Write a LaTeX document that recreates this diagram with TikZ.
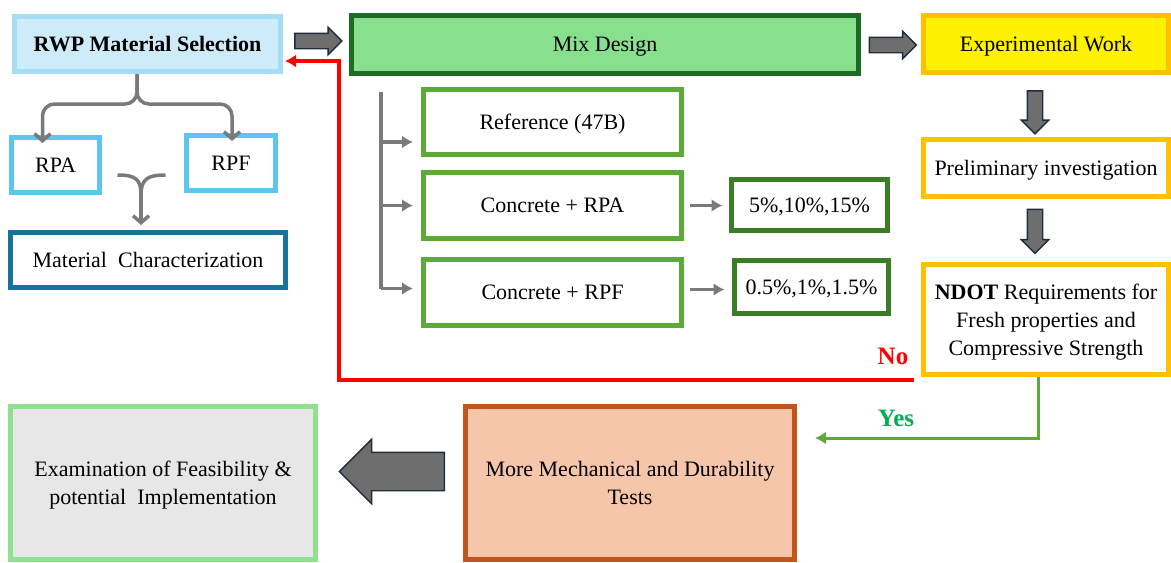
\documentclass[tikz,border=0pt]{standalone}
\usepackage{fontspec}
\setmainfont{Liberation Serif}
\usepackage{tikz}
\usetikzlibrary{calc, arrows.meta, shapes.arrows}

\definecolor{skyline}{HTML}{A6DCF4}
\definecolor{skyfill}{HTML}{CDEBF9}
\definecolor{skyedge}{HTML}{5CC6EE}
\definecolor{tealedge}{HTML}{17739B}
\definecolor{mixfill}{HTML}{88E08F}
\definecolor{mixedge}{HTML}{1E6B24}
\definecolor{leafedge}{HTML}{5CAA38}
\definecolor{darkleaf}{HTML}{3B7D26}
\definecolor{gold}{HTML}{FFC000}
\definecolor{peach}{HTML}{F5C6AA}
\definecolor{rust}{HTML}{C0561D}
\definecolor{paleedge}{HTML}{8FE08F}
\definecolor{palegray}{HTML}{E7E7E7}
\definecolor{linegray}{HTML}{7A7A7A}
\definecolor{arrowgray}{HTML}{6E6E6E}
\definecolor{navyedge}{HTML}{1F2D3D}
\definecolor{yesgreen}{HTML}{00B050}

\begin{document}
\begin{tikzpicture}[x=0.5pt, y=-0.5pt, >={Latex[length=5.5pt,width=6.5pt]},
  box/.style={draw, line width=2.5pt, align=center, inner sep=0pt, text depth=0pt, font=\fontsize{11pt}{14pt}\selectfont},
  boldtext/.style={font=\bfseries\fontsize{11pt}{14pt}\selectfont},
  bigbold/.style={font=\bfseries\fontsize{12.5pt}{14pt}\selectfont},
  gline/.style={linegray, line width=1.75pt},
  barb/.style={-{Straight Barb[length=3.5pt,width=8pt]}},
  fat/.style={single arrow, draw=navyedge, fill=arrowgray, line width=0.7pt, minimum width=13pt, minimum height=23.5pt, inner sep=3.5pt, single arrow head extend=3pt}]
\useasboundingbox (0,0) rectangle (1171,562);

\node[box, boldtext, draw=skyline, fill=skyfill, minimum width=133pt, minimum height=27.5pt] (rwp) at (147.5,44) {RWP Material Selection};
\node[box, draw=skyedge, minimum width=44pt, minimum height=27.5pt] (rpa) at (55.5,165) {RPA};
\node[box, draw=skyedge, minimum width=44.5pt, minimum height=27.5pt] (rpf) at (231,163) {RPF};
\node[box, draw=tealedge, minimum width=137.5pt, minimum height=27.5pt] (matchar) at (148,260) {Material\enspace Characterization};

\node[box, draw=mixedge, fill=mixfill, minimum width=253.5pt, minimum height=29pt] (mix) at (605,44.5) {Mix Design};
\node[box, draw=leafedge, minimum width=129pt, minimum height=32.5pt] (ref) at (552.5,122) {Reference (47B)};
\node[box, draw=leafedge, minimum width=129pt, minimum height=33pt] (cra) at (552.5,205.5) {Concrete + RPA};
\node[box, draw=leafedge, minimum width=129pt, minimum height=33pt] (crf) at (552.5,292.5) {Concrete + RPF};
\node[box, draw=darkleaf, minimum width=78pt, minimum height=25.5pt] (pa) at (809.5,205) {5\%,10\%,15\%};
\node[box, draw=darkleaf, minimum width=77pt, minimum height=26.5pt] (pf) at (811.5,287) {0.5\%,1\%,1.5\%};

\node[box, draw=gold, fill=yellow, minimum width=122.5pt, minimum height=28.5pt] (expw) at (1046,44) {Experimental Work};
\node[box, draw=gold, minimum width=122.5pt, minimum height=28.5pt] (prel) at (1046,168) {Preliminary investigation};
\node[box, draw=gold, minimum width=122.5pt, minimum height=55pt] (ndot) at (1046,319.5) {\textbf{NDOT} Requirements for\\Fresh properties and\\Compressive Strength};

\node[box, draw=rust, fill=peach, minimum width=164.5pt, minimum height=76.5pt] (more) at (630,483) {More Mechanical and Durability\\Tests};
\node[box, draw=paleedge, fill=palegray, minimum width=152.5pt, minimum height=76.5pt] (exam) at (163,483) {Examination of Feasibility \&\\potential\enspace Implementation};

\node[fat] (f1) at (314.5,41) {};
\node[fat] (f2) at (889,45) {};
\node[fat, shape border rotate=270, minimum height=21.5pt] (f3) at (1035,108.5) {};
\node[fat, shape border rotate=270, minimum height=22pt] (f4) at (1035,227.5) {};
\node[fat, shape border rotate=180, minimum height=52.5pt, minimum width=31.5pt, inner sep=9.25pt, single arrow head extend=6.5pt] (f5) at (401.5,471.5) {};

\draw[gline, barb, rounded corners=6pt] ([xshift=-5.25pt]rwp.south) -- ++(0,30) -| ([xshift=-6.5pt,yshift=-4pt]rpa.north);
\draw[gline, barb, rounded corners=6pt] ([xshift=-5.25pt]rwp.south) -- ++(0,30) -| ([xshift=0.5pt,yshift=-4pt]rpf.north);
\coordinate (mj) at (141,195);
\draw[gline] ([xshift=7.75pt,yshift=-5pt]rpa.east) .. controls +(18,0) and +(0,-16) .. (mj);
\draw[gline] ([xshift=-9.25pt,yshift=-6pt]rpf.west) .. controls +(-18,0) and +(0,-16) .. (mj);
\draw[gline, barb, shorten >=2.5pt] (mj) -- (mj |- matchar.north);

\coordinate (bt) at (381,92);
\draw[gline] (bt) -- ($(bt |- crf.west)+(0,-4)$);
\foreach \b/\d in {ref/20, cra/0, crf/-4}
  \draw[gline, ->, shorten >=4pt] ($(bt |- \b.west)+(0,\d)$) -- ($(\b.west)+(0,\d)$);
\draw[gline, ->, shorten <=3pt, shorten >=3.25pt] (cra.east) -- (pa.west |- cra.east);
\draw[gline, ->, shorten <=3pt, shorten >=3.75pt] ($(crf.east)+(0,-3)$) -- ($(pf.west |- crf.east)+(0,-3)$);

\coordinate (nr) at (339,61);
\draw[red, line width=1.75pt, ->, shorten >=1pt] ([xshift=-3.5pt,yshift=-1.5pt]ndot.south west) -| (nr) -- (rwp.east |- nr);
\node[bigbold, text=red] (no) at (893,356) {No};

\coordinate (yc) at (815,438);
\draw[leafedge, line width=1.5pt, ->] ([xshift=-4pt]ndot.south) |- (yc);
\node[bigbold, text=yesgreen] (yes) at (896,418) {Yes};

\end{tikzpicture}
\end{document}
